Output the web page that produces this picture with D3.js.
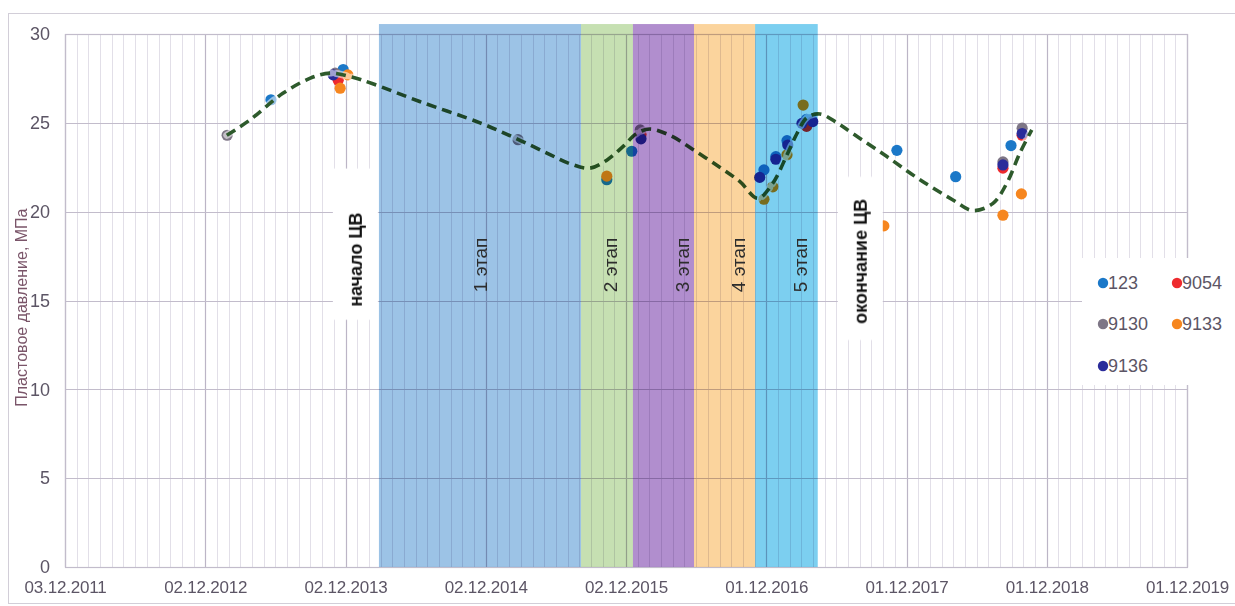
<!DOCTYPE html>
<html>
<head>
<meta charset="utf-8">
<script src="https://cdn.jsdelivr.net/npm/d3@7"></script>
<style>
  html, body { margin: 0; padding: 0; background: #fff; }
  svg { display: block; }
</style>
</head>
<body>
<svg id="chart" width="1235" height="606"></svg>
<script>
// ---------------- DATA ----------------
const xTickLabels = ["03.12.2011","02.12.2012","02.12.2013","02.12.2014","02.12.2015","01.12.2016","01.12.2017","01.12.2018","01.12.2019"];
const yTicks = [0, 5, 10, 15, 20, 25, 30];
const yTitle = "Пластовое давление, МПа";

const seriesNames = ["123", "9054", "9130", "9133", "9136"];
const seriesColors = ["#1b78c8", "#ee2a2e", "#7e7686", "#f6861f", "#2b2c9a"];

const s123 = [["2013-05-22",26.3],["2013-11-26",28.0],["2015-10-13",21.8],["2015-12-17",23.4],["2016-11-25",22.35],
              ["2016-12-26",23.1],["2017-01-24",24.0],["2017-03-16",25.2],["2017-03-29",25.2],["2017-11-06",23.45],
              ["2018-04-08",21.97],["2018-08-30",23.72]];
const s9054 = [["2013-11-13",27.4],["2016-01-10",24.35],["2017-03-16",24.8],["2018-08-09",22.45],["2018-09-28",24.3]];
const s9130 = [["2013-01-28",24.3],["2013-11-05",27.8],["2015-02-24",24.05],["2016-01-08",24.6],["2018-08-09",22.8],["2018-09-28",24.7]];
const s9133 = [["2013-11-18",26.95],["2013-12-08",27.7],["2015-10-13",22.0],["2016-11-25",20.7],["2016-12-18",21.4],
               ["2017-01-24",23.2],["2017-03-07",26.0],["2017-10-03",19.2],["2018-08-09",19.8],["2018-09-26",21.0]];
const s9136 = [["2013-10-31",27.7],["2016-01-10",24.1],["2016-11-14",21.93],["2016-12-26",22.95],["2017-01-26",23.75],
               ["2017-03-04",24.97],["2017-04-01",25.07],["2018-08-09",22.63],["2018-09-28",24.4]];
const seriesData = [s123, s9054, s9130, s9133, s9136];

// dashed trend curve
const trendDates = ["2013-01-27","2013-03-28","2013-06-22","2013-08-31","2013-10-23","2013-12-14","2014-02-11","2014-06-13",
  "2014-11-17","2015-02-21","2015-05-10","2015-07-09","2015-08-30","2015-10-13","2015-11-24","2015-12-30","2016-02-02",
  "2016-03-25","2016-05-24","2016-08-02","2016-09-23","2016-11-09","2016-12-18","2017-01-24","2017-02-19","2017-03-17",
  "2017-04-20","2017-06-03","2017-07-14","2017-10-11","2018-01-05","2018-04-01","2018-05-23","2018-07-14","2018-08-19",
  "2018-09-22","2018-10-23"];
const trendValues = [24.3,25.16,26.66,27.5,27.8,27.6,27.2,26.2,25.0,24.1,23.3,22.7,22.45,22.9,23.66,24.4,24.65,24.3,23.5,
  22.5,21.7,20.75,21.6,23.2,24.4,25.3,25.5,25.0,24.4,23.1,21.8,20.66,20.06,20.47,21.6,23.3,24.6];

// stage bands
const stageLabels = ["1 этап", "2 этап", "3 этап", "4 этап", "5 этап"];
const stageStarts = ["2014-02-27", "2015-08-07", "2015-12-20", "2016-05-27", "2016-11-02"];
const stageEnds   = ["2015-08-07", "2015-12-20", "2016-05-27", "2016-11-02", "2017-04-14"];
const stageLabelDates = ["2014-11-17", "2015-10-21", "2016-04-25", "2016-09-18", "2017-02-26"];
const stageColors = ["#9cc3e6", "#c6e0b2", "#b18ece", "#fbd49d", "#7ccff0"];
const bandTopValue = 30.56;
const stageLabelValue = 17.0;

// annotations
const noteLabels = ["начало ЦВ", "окончание ЦВ"];
const noteDates = ["2013-12-29", "2017-08-04"];
const noteValues = [17.3, 17.2];

// ---------------- CHART ----------------
const parseISO = d3.utcParse("%Y-%m-%d");
const parseTick = d3.utcParse("%d.%m.%Y");
const fmtTick = d3.utcFormat("%d.%m.%Y");

const svg = d3.select("#chart");
const W = 1235, H = 606;
const plot = { left: 65, right: 1187, top: 34, bottom: 567 };

const tickDates = xTickLabels.map(parseTick);
const x = d3.scaleUtc().domain([tickDates[0], tickDates[tickDates.length - 1]]).range([plot.left, plot.right]);
const y = d3.scaleLinear().domain([0, 30]).range([plot.bottom, plot.top]);

svg.append("rect").attr("width", W).attr("height", H).attr("fill", "#fff");
// outer chart border
svg.append("rect").attr("x", 8.5).attr("y", 13.5).attr("width", W - 8).attr("height", H - 16)
  .attr("fill", "none").attr("stroke", "#d2ced8").attr("stroke-width", 1);

const gGrid = svg.append("g");
const dayMs = 864e5;
const t0 = tickDates[0].getTime();
const nYears = tickDates.length - 1;
const minorDates = d3.range(0, nYears * 12 + 1).map(i => new Date(t0 + i * (365 / 12) * dayMs));
gGrid.selectAll("line.minor").data(minorDates).join("line")
  .attr("x1", d => Math.round(x(d)) + 0.5).attr("x2", d => Math.round(x(d)) + 0.5)
  .attr("y1", plot.top).attr("y2", plot.bottom)
  .attr("stroke", "#e2dfe8").attr("stroke-width", 1);
gGrid.selectAll("line.vmaj").data(tickDates).join("line")
  .attr("x1", d => Math.round(x(d)) + 0.5).attr("x2", d => Math.round(x(d)) + 0.5)
  .attr("y1", plot.top).attr("y2", plot.bottom)
  .attr("stroke", "#bcb5c6").attr("stroke-width", 1.2);
gGrid.selectAll("line.hmaj").data(yTicks).join("line")
  .attr("x1", plot.left).attr("x2", plot.right)
  .attr("y1", d => Math.round(y(d)) + 0.5).attr("y2", d => Math.round(y(d)) + 0.5)
  .attr("stroke", "#c2bccb").attr("stroke-width", 1.2);
gGrid.append("rect").attr("x", plot.left + 0.5).attr("y", plot.top + 0.5)
  .attr("width", plot.right - plot.left).attr("height", plot.bottom - plot.top)
  .attr("fill", "none").attr("stroke", "#c2bccb").attr("stroke-width", 1.2);

// axes (labels only)
const xAxis = d3.axisBottom(x).tickValues(tickDates).tickFormat(fmtTick).tickSize(0).tickPadding(14);
const gx = svg.append("g").attr("transform", `translate(0,${plot.bottom})`).call(xAxis);
gx.select(".domain").remove();
gx.selectAll("text").attr("fill", "#5c5565").style("font-family", "'Liberation Sans Narrow', 'Liberation Sans', sans-serif")
  .style("font-size", "17px").style("letter-spacing", "-0.2px");

const yAxis = d3.axisLeft(y).tickValues(yTicks).tickFormat(d3.format("d")).tickSize(0).tickPadding(15);
const gy = svg.append("g").attr("transform", `translate(${plot.left},0)`).call(yAxis);
gy.select(".domain").remove();
gy.selectAll("text").attr("fill", "#5c5565").style("font-family", "'Liberation Sans Narrow', 'Liberation Sans', sans-serif")
  .style("font-size", "18px");

svg.append("text").text(yTitle)
  .attr("transform", `translate(27,${y(14.6)}) rotate(-90)`)
  .attr("text-anchor", "middle")
  .attr("fill", "#7a5569")
  .style("font-family", "'Liberation Sans Narrow', 'Liberation Sans', sans-serif")
  .style("font-size", "16px");

// points
const gPts = svg.append("g");
seriesData.forEach((s, i) => {
  gPts.selectAll(null).data(s).join("circle")
    .attr("cx", d => x(parseISO(d[0]))).attr("cy", d => y(d[1]))
    .attr("r", 5.6).attr("fill", seriesColors[i]);
});

// trend line
const trend = trendDates.map((d, i) => [parseISO(d), trendValues[i]]);
const line = d3.line().x(d => x(d[0])).y(d => y(d[1])).curve(d3.curveCatmullRom.alpha(0.5));
svg.append("path").attr("d", line(trend)).attr("fill", "none")
  .attr("stroke", "#ffffff").attr("stroke-opacity", 0.55).attr("stroke-width", 7)
  .attr("stroke-dasharray", "11,5").attr("stroke-linecap", "round");
svg.append("path").attr("d", line(trend)).attr("fill", "none")
  .attr("stroke", "#2e5a2c").attr("stroke-width", 3.6)
  .attr("stroke-dasharray", "10,6");

// stage bands (multiply so points and grid show through)
const gBands = svg.append("g");
gBands.selectAll("rect").data(stageLabels).join("rect")
  .attr("x", (d, i) => x(parseISO(stageStarts[i])))
  .attr("width", (d, i) => x(parseISO(stageEnds[i])) - x(parseISO(stageStarts[i])))
  .attr("y", y(bandTopValue)).attr("height", y(0) - y(bandTopValue))
  .attr("fill", (d, i) => stageColors[i])
  .style("mix-blend-mode", "multiply");

const stageFont = 19;
svg.selectAll("text.stage").data(stageLabels).join("text")
  .attr("class", "stage")
  .attr("transform", (d, i) => `translate(${x(parseISO(stageLabelDates[i])) + stageFont * 0.36},${y(stageLabelValue)}) rotate(-90)`)
  .attr("text-anchor", "middle")
  .attr("fill", "#2d2d2d")
  .style("font-family", "'Liberation Sans', sans-serif")
  .style("font-size", stageFont + "px")
  .text(d => d);

// annotations with white boxes
const notePadTop = [44, 22], notePadBottom = [13, 16];
noteLabels.forEach((t, i) => {
  const g = svg.append("g").attr("transform", `translate(${x(parseISO(noteDates[i]))},${y(noteValues[i])}) rotate(-90)`);
  const txt = g.append("text").text(t)
    .attr("text-anchor", "middle").attr("dy", "0.35em")
    .attr("fill", "#111")
    .style("font-family", "'Liberation Sans', sans-serif")
    .style("font-weight", "bold").style("font-size", "18px");
  const bb = txt.node().getBBox();
  g.insert("rect", "text")
    .attr("x", bb.x - notePadBottom[i]).attr("y", -23)
    .attr("width", bb.width + notePadTop[i] + notePadBottom[i]).attr("height", 45)
    .attr("fill", "#fff");
});

// legend
const gLeg = svg.append("g");
gLeg.append("rect").attr("x", 1082).attr("y", 258).attr("width", 152).attr("height", 127).attr("fill", "#fff");
const legPos = [[1103, 283], [1177, 283], [1103, 324], [1177, 324], [1103, 366]];
seriesNames.forEach((n, i) => {
  const [lx, ly] = legPos[i];
  gLeg.append("circle").attr("cx", lx).attr("cy", ly).attr("r", 5.2).attr("fill", seriesColors[i]);
  gLeg.append("text").attr("x", lx + 5).attr("y", ly).attr("dy", "0.36em").text(n)
    .attr("fill", "#5c5565")
    .style("font-family", "'Liberation Sans Narrow', 'Liberation Sans', sans-serif")
    .style("font-size", "18px");
});
</script>
</body>
</html>
